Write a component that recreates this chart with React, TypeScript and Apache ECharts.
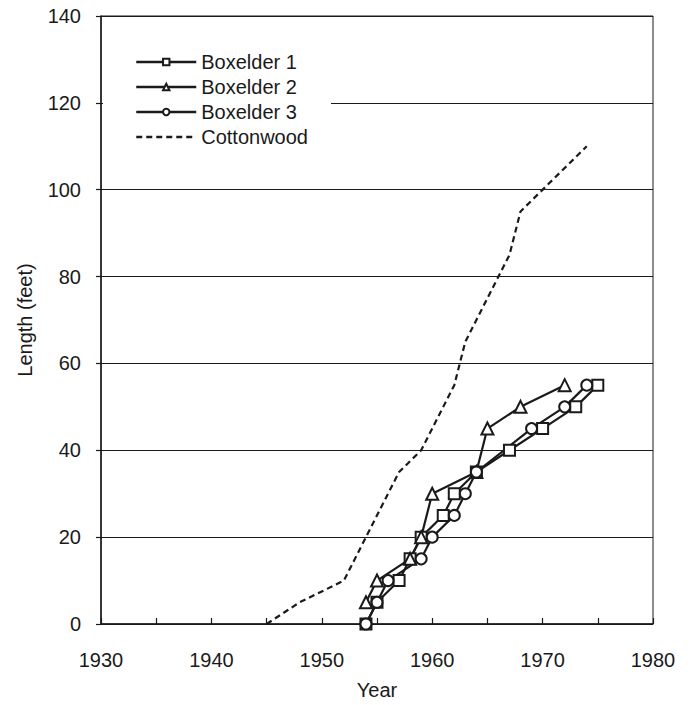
import React, { useEffect, useRef } from "react";
import * as echarts from "echarts";

const xTicks = [1930, 1980];
const yTicks = [0, 140];

const boxelder1: [number, number][] = [
  [1954, 0], [1955, 5], [1957, 10], [1958, 15], [1959, 20], [1961, 25],
  [1962, 30], [1964, 35], [1967, 40], [1970, 45], [1973, 50], [1975, 55],
];
const boxelder2: [number, number][] = [
  [1954, 5], [1955, 10], [1958, 15], [1959, 20], [1960, 30], [1964, 35],
  [1965, 45], [1968, 50], [1972, 55],
];
const boxelder3: [number, number][] = [
  [1954, 0], [1955, 5], [1956, 10], [1959, 15], [1960, 20], [1962, 25],
  [1963, 30], [1964, 35], [1969, 45], [1972, 50], [1974, 55],
];
const cottonwood: [number, number][] = [
  [1945, 0], [1948, 5], [1952, 10], [1957, 35], [1959, 40], [1962, 55],
  [1963, 65], [1967, 85], [1968, 95], [1974, 110],
];

const INK = "#1a1a1a";
const FONT = "'Liberation Sans', Arial, Helvetica, sans-serif";

export default function App() {
  const ref = useRef<HTMLDivElement>(null);
  useEffect(() => {
    if (!ref.current) return;
    const chart = echarts.init(ref.current, null, { renderer: "svg" });
    const lineSeries = (name: string, data: [number, number][], symbol: string, size: number) => ({
      name,
      type: "line",
      data,
      symbol,
      symbolSize: size,
      showSymbol: true,
      lineStyle: { color: INK, width: 2.2 },
      itemStyle: { color: INK, borderColor: INK, borderWidth: 2 },
      emphasis: { disabled: true },
    });
    chart.setOption({
      animation: false,
      textStyle: { fontFamily: FONT },
      grid: {
        left: 101,
        right: 42,
        top: 16,
        bottom: 79,
        show: true,
        borderColor: INK,
        borderWidth: 1,
        backgroundColor: "transparent",
      },
      legend: {
        orient: "vertical",
        left: 103,
        top: 42,
        itemWidth: 60,
        itemHeight: 8,
        itemGap: 5,
        padding: [10, 23, 10, 32],
        backgroundColor: "#fff",
        textStyle: { fontSize: 20, color: INK, fontFamily: FONT },
        data: [
          { name: "Boxelder 1", itemStyle: { borderWidth: 1.5 }, lineStyle: { width: 2.5, color: INK } },
          { name: "Boxelder 2", itemStyle: { borderWidth: 1.5 }, lineStyle: { width: 2.5, color: INK } },
          { name: "Boxelder 3", itemStyle: { borderWidth: 1.5 }, lineStyle: { width: 2.5, color: INK } },
          { name: "Cottonwood", itemStyle: { opacity: 0 }, lineStyle: { width: 2.5, color: INK, type: [6, 4] } },
        ],
      },
      xAxis: {
        type: "value",
        min: xTicks[0],
        max: xTicks[1],
        interval: 5,
        name: "Year",
        nameLocation: "middle",
        nameGap: 56,
        nameTextStyle: { fontSize: 20, color: INK, fontFamily: FONT },
        axisLine: { lineStyle: { color: INK, width: 1.5 } },
        axisTick: { inside: true, length: 6, lineStyle: { color: INK, width: 1.2 } },
        axisLabel: {
          fontSize: 20,
          color: INK,
          margin: 26,
          fontFamily: FONT,
          formatter: (v: number) => (v % 10 === 0 ? String(v) : ""),
        },
        splitLine: { show: false },
      },
      yAxis: {
        type: "value",
        min: yTicks[0],
        max: yTicks[1],
        interval: 20,
        name: "Length (feet)",
        nameLocation: "middle",
        nameGap: 66,
        nameTextStyle: { fontSize: 20, color: INK, fontFamily: FONT },
        axisLine: { show: true, lineStyle: { color: INK, width: 1.5 } },
        axisTick: { show: true, inside: false, length: 5, lineStyle: { color: INK, width: 1.2 } },
        axisLabel: { fontSize: 20, color: INK, margin: 20, fontFamily: FONT },
        splitLine: { show: true, lineStyle: { color: INK, width: 1.2 } },
      },
      series: [
        lineSeries("Boxelder 1", boxelder1, "emptyRect", 11),
        lineSeries("Boxelder 2", boxelder2, "emptyTriangle", 12),
        lineSeries("Boxelder 3", boxelder3, "emptyCircle", 11),
        {
          name: "Cottonwood",
          type: "line",
          data: cottonwood,
          symbol: "none",
          showSymbol: false,
          lineStyle: { color: INK, width: 2.2, type: [6, 4] },
          itemStyle: { color: INK },
          emphasis: { disabled: true },
        },
      ],
    });
    return () => chart.dispose();
  }, []);
  return (
    <div
      ref={ref}
      style={{ position: "fixed", left: 0, top: 0, width: 695, height: 705, background: "#fff" }}
    />
  );
}
